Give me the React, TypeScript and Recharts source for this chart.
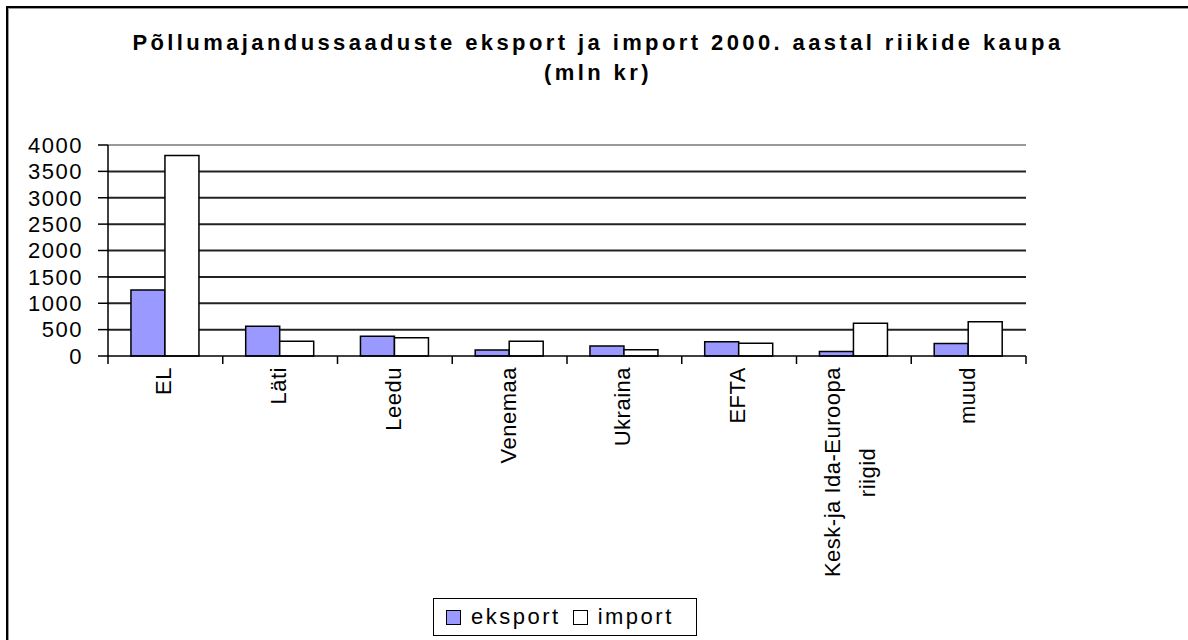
import { BarChart, Bar, XAxis, YAxis, CartesianGrid, ReferenceLine, Legend } from 'recharts';

const categories = ['EL', 'Läti', 'Leedu', 'Venemaa', 'Ukraina', 'EFTA', 'Kesk-ja Ida-Euroopa\nriigid', 'muud'];
const eksport = [1250, 565, 375, 115, 190, 270, 85, 235];
const importValues = [3800, 280, 345, 280, 120, 240, 620, 650];
const yTicks = [0, 500, 1000, 1500, 2000, 2500, 3000, 3500, 4000];

const data = categories.map((name, i) => ({ name, eksport: eksport[i], import: importValues[i] }));

const FONT = '"Liberation Sans", Arial, sans-serif';
const W = 1188;
const H = 640;
const PLOT_LEFT = 108;
const PLOT_RIGHT = 1026;
const BAND = (PLOT_RIGHT - PLOT_LEFT) / categories.length;

function CategoryTick(props: any) {
  const { x, y, payload, index } = props;
  const half = payload && typeof payload.offset === 'number' && payload.offset > 0 ? payload.offset : BAND / 2;
  const lines = String(payload.value).split('\n');
  const end = y + 11;
  const style = { fontFamily: FONT, fontSize: 22, letterSpacing: 0.5, fill: '#000' };
  return (
    <g>
      <line x1={x - half} x2={x - half} y1={y} y2={y + 8} stroke="#000" strokeWidth={1.5} />
      {index === categories.length - 1 && (
        <line x1={x + half} x2={x + half} y1={y} y2={y + 8} stroke="#000" strokeWidth={1.5} />
      )}
      {lines.length === 1 ? (
        <text x={x - 2} y={end} dy="0.36em" textAnchor="end" transform={`rotate(-90 ${x - 2} ${end})`} style={style}>
          {lines[0]}
        </text>
      ) : (
        <>
          <text x={x - 22} y={end} dy="0.36em" textAnchor="end" transform={`rotate(-90 ${x - 22} ${end})`} style={style}>
            {lines[0]}
          </text>
          <text
            x={x + 13}
            y={end + (lines[0].length * 11.1) / 2}
            dy="0.36em"
            textAnchor="middle"
            transform={`rotate(-90 ${x + 13} ${end + (lines[0].length * 11.1) / 2})`}
            style={style}
          >
            {lines[1]}
          </text>
        </>
      )}
    </g>
  );
}

function LegendBox() {
  const item = (fill: string, label: string) => (
    <span style={{ display: 'inline-flex', alignItems: 'center', marginRight: 12 }}>
      <span style={{ width: 13, height: 13, background: fill, border: '1.5px solid #000', marginRight: 10 }} />
      <span>{label}</span>
    </span>
  );
  return (
    <div
      style={{
        width: 264,
        height: 38,
        border: '1.5px solid #000',
        boxSizing: 'border-box',
        display: 'flex',
        alignItems: 'center',
        paddingLeft: 12,
        fontFamily: FONT,
        fontSize: 22,
        letterSpacing: 2.5,
        color: '#000',
        background: '#fff',
      }}
    >
      {item('#9999ff', 'eksport')}
      {item('#ffffff', 'import')}
    </div>
  );
}

export default function App() {
  return (
    <div style={{ position: 'fixed', left: 0, top: 0, width: W, height: H, background: '#fff', overflow: 'hidden' }}>
      <div
        style={{
          position: 'absolute',
          left: 6,
          top: 6,
          width: 1300,
          height: 800,
          borderTop: '2px solid #000',
          borderLeft: '2px solid #000',
          boxShadow: 'inset 1px 1px 0 #999',
        }}
      />
      <div
        style={{
          position: 'absolute',
          left: 0,
          top: 28,
          width: 1196,
          textAlign: 'center',
          fontFamily: FONT,
          fontWeight: 'bold',
          fontSize: 22,
          lineHeight: '30px',
          letterSpacing: 3.4,
          color: '#000',
        }}
      >
        Põllumajandussaaduste eksport ja import 2000. aastal riikide kaupa
        <br />
        (mln kr)
      </div>
      <div style={{ position: 'absolute', left: 0, top: 0 }}>
        <BarChart
          width={W}
          height={H}
          data={data}
          margin={{ top: 145, right: W - PLOT_RIGHT, left: 0, bottom: 34 }}
          barCategoryGap="20%"
          barGap={0}
        >
          <CartesianGrid vertical={false} horizontalValues={[500, 1000, 1500, 2000, 2500, 3000, 3500]} stroke="#222" strokeWidth={2} />
          <ReferenceLine y={4000} stroke="#999" strokeWidth={2} />
          <XAxis
            dataKey="name"
            height={H - 356 - 34}
            interval={0}
            tickLine={false}
            tickSize={0}
            tickMargin={0}
            axisLine={{ stroke: '#000', strokeWidth: 1.5 }}
            tick={<CategoryTick />}
          />
          <YAxis
            width={PLOT_LEFT}
            domain={[0, 4000]}
            ticks={yTicks}
            interval={0}
            tickSize={10}
            tickMargin={15}
            axisLine={{ stroke: '#000', strokeWidth: 1.5 }}
            tickLine={{ stroke: '#000', strokeWidth: 1.5 }}
            tick={{ fill: '#000', fontSize: 22, fontFamily: FONT, letterSpacing: 1.5 }}
          />
          <YAxis
            yAxisId="frame"
            orientation="right"
            width={0}
            domain={[0, 4000]}
            tick={false}
            tickLine={false}
            axisLine={{ stroke: '#999', strokeWidth: 2 }}
          />
          <Legend
            layout="horizontal"
            verticalAlign="middle"
            align="center"
            content={<LegendBox />}
            wrapperStyle={{ left: 433, top: 598, width: 'auto' }}
          />
          <Bar dataKey="eksport" name="eksport" fill="#9999ff" stroke="#000" strokeWidth={1.5} isAnimationActive={false} />
          <Bar dataKey="import" name="import" fill="#ffffff" stroke="#000" strokeWidth={1.5} isAnimationActive={false} />
        </BarChart>
      </div>
    </div>
  );
}
